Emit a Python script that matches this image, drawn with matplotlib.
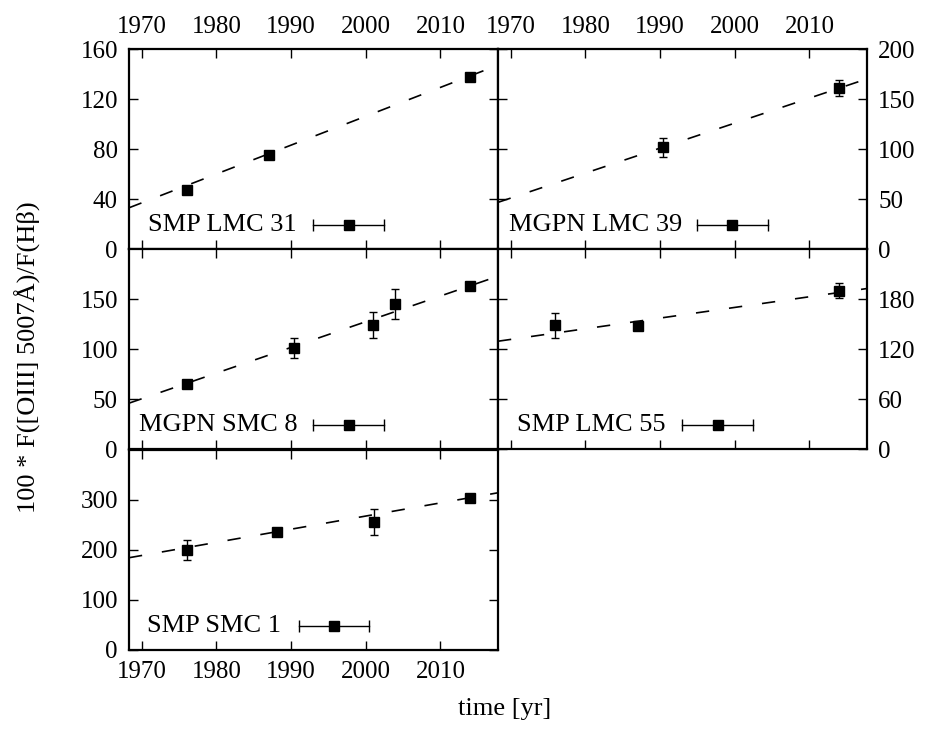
import numpy as np
import matplotlib.pyplot as plt

plt.rcParams['font.family'] = ['Liberation Serif', 'DejaVu Serif']
plt.rcParams['font.size'] = 18

# --- data ---
lmc31_t = [1976.0, 1987.1, 2013.9]
lmc31_y = [47, 75.4, 137.6]
lmc31_e = [3, 2, 3]
lmc31_fit = (36.9, 2.31)   # value at 1970, slope per yr

lmc39_t = [1990.4, 2014.0]
lmc39_y = [101.6, 161]
lmc39_e = [9.7, 8]
lmc39_fit = (50.9, 2.50)

smc8_t = [1976.0, 1990.4, 2001.0, 2003.9, 2013.9]
smc8_y = [64.7, 101, 124.4, 145.3, 162.8]
smc8_e = [4, 10, 13, 15, 4]
smc8_fit = (50.2, 2.57)

lmc55_t = [1975.9, 1987.0, 2014.0]
lmc55_y = [148.4, 147.2, 190.2]
lmc55_e = [15, 4, 9]
lmc55_fit = (131.5, 1.28)

smc1_t = [1976.1, 1988.1, 2001.1, 2013.9]
smc1_y = [201, 235.4, 255.3, 303.9]
smc1_e = [20, 8, 26, 8]
smc1_fit = (189.0, 2.63)

year_ticks = [1970, 1980, 1990, 2000, 2010]
xlim = (1968.3, 2017.7)

fig = plt.figure(figsize=(9.3, 7.4), dpi=100)
W, H = 930, 740
left0, colw = 129, 369
tops = [48, 248, 449]
rowh = 201


def make_ax(col, row):
    x0 = left0 + col * colw
    y0 = tops[row] + rowh
    return fig.add_axes([x0 / W, 1 - y0 / H, colw / W, (rowh - 1) / H])


def panel(ax, t, y, e, fit, ylim, yticks, label, txt_x, sample, side):
    xs = np.array(xlim)
    ax.plot(xs, fit[0] + fit[1] * (xs - 1970), color='black', lw=1.2,
            dashes=(8, 12))
    ax.errorbar(t, y, yerr=e, fmt='s', color='black', ms=7.5, capsize=3,
                elinewidth=1.0, capthick=1.0)
    ax.set_xlim(xlim)
    ax.set_ylim(ylim)
    ax.set_xticks(year_ticks)
    ax.set_yticks(yticks)
    ax.tick_params(direction='in', length=6.5, width=1, top=True, right=True,
                   bottom=True, left=True, labelbottom=False, labeltop=False,
                   labelleft=(side == 'left'), labelright=(side == 'right'),
                   pad=8)
    for s in ax.spines.values():
        s.set_linewidth(1.6)
    # gnuplot style key: label, then a horizontal error bar sample
    ky = 0.118
    ax.text(txt_x, ky, label, transform=ax.transAxes, ha='right', va='center',
            fontsize=19)
    ax.plot([sample[0], sample[1]], [ky, ky], color='black', lw=1.0,
            marker='|', ms=8, transform=ax.transAxes)
    ax.plot([(sample[0] + sample[1]) / 2], [ky], 's', color='black', ms=7.5,
            transform=ax.transAxes)


ax1 = make_ax(0, 0)
panel(ax1, lmc31_t, lmc31_y, lmc31_e, lmc31_fit, (0, 160), [0, 40, 80, 120, 160],
      'SMP LMC 31', 0.455, (0.499, 0.691), 'left')
ax1.tick_params(labeltop=True)

ax2 = make_ax(1, 0)
panel(ax2, lmc39_t, lmc39_y, lmc39_e, lmc39_fit, (0, 200), [0, 50, 100, 150, 200],
      'MGPN LMC 39', 0.498, (0.539, 0.732), 'right')
ax2.tick_params(labeltop=True)

ax3 = make_ax(0, 1)
panel(ax3, smc8_t, smc8_y, smc8_e, smc8_fit, (0, 200), [0, 50, 100, 150],
      'MGPN SMC 8', 0.458, (0.499, 0.691), 'left')

ax4 = make_ax(1, 1)
panel(ax4, lmc55_t, lmc55_y, lmc55_e, lmc55_fit, (0, 240), [0, 60, 120, 180],
      'SMP LMC 55', 0.455, (0.499, 0.691), 'right')

ax5 = make_ax(0, 2)
panel(ax5, smc1_t, smc1_y, smc1_e, smc1_fit, (0, 400), [0, 100, 200, 300],
      'SMP SMC 1', 0.411, (0.460, 0.650), 'left')
ax5.tick_params(labelbottom=True)

fig.text(28 / W, 1 - 357 / H, '100 * F([OIII] 5007Å)/F(Hβ)',
         rotation=90, ha='center', va='center', fontsize=19)
fig.text(505 / W, 1 - 709 / H, 'time [yr]', ha='center', va='center',
         fontsize=19)

fig.savefig('out.png', dpi=100)
